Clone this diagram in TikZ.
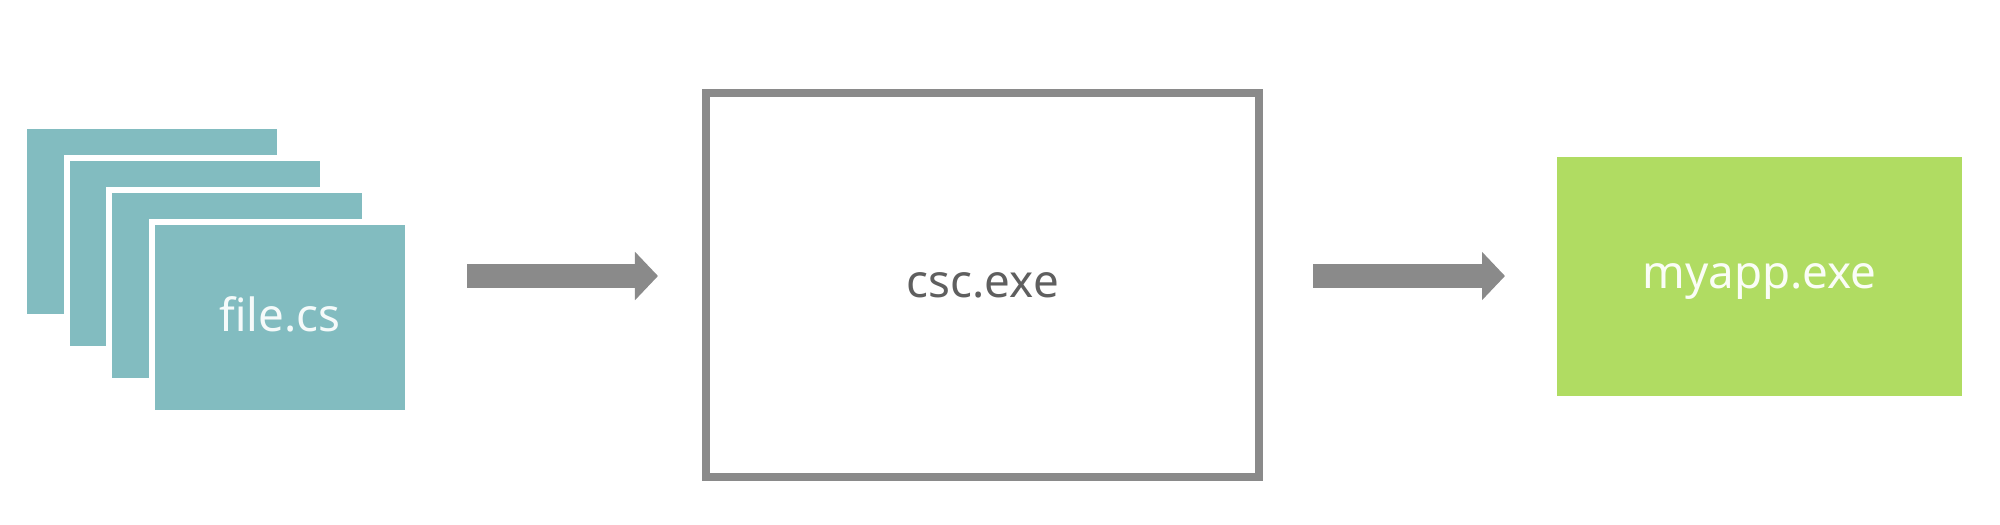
\documentclass[tikz,border=0pt]{standalone}
\usepackage{fontspec}
\setmainfont{Noto Sans}
\usetikzlibrary{arrows.meta, positioning, calc}
\definecolor{cardteal}{HTML}{82BCC0}
\definecolor{appgreen}{HTML}{B0DC62}
\definecolor{arrowgray}{HTML}{8A8A8A}
\definecolor{labelgray}{HTML}{5F5F5F}

\begin{document}
\begin{tikzpicture}[x=0.01cm, y=-0.01cm,
				FileCard/.style={
				rectangle,
				fill = cardteal,
				draw = white,
				line width = 0.06cm,
				inner sep = 0pt,
				minimum width = 2.56cm,
				minimum height = 1.91cm
				},
				ToolBox/.style={
				rectangle,
				draw = arrowgray,
				line width = 0.08cm,
				inner sep = 0pt,
				minimum width = 5.525cm,
				minimum height = 3.84cm,
				font = \fontsize{13}{15}\selectfont,
				text = labelgray
				},
				AppBox/.style={
				rectangle,
				fill = appgreen,
				inner sep = 0pt,
				minimum width = 4.05cm,
				minimum height = 2.39cm,
				text depth = 0pt,
				font = \fontsize{13}{15}\selectfont,
				text = white!94!appgreen
				},
				BigArrow/.style={
				draw = arrowgray,
				line width = 0.24cm,
				-{Triangle[length=0.23cm, width=0.47cm]}
				}]
				\useasboundingbox (0,0) rectangle (2000,524);
				\foreach \i in {1,...,4}{ % stacked source files
				\node[FileCard] (f\i) at ({152+42.67*(\i-1)}, {221.5+32*(\i-1)}) {};
				}
				\node[font=\fontsize{13}{15}\selectfont, text=white!92!cardteal, yshift=0.03cm] (fname) at (f4.center) {file.cs};
				\node[ToolBox] (csc) at (982.75,285) {csc.exe};
				\node[AppBox] (app) at (1759.5,276.5) {myapp.exe};
				\coordinate (a1s) at (467,276);
				\coordinate (a1e) at (658,276);
				\coordinate (a2s) at (1313,276);
				\coordinate (a2e) at (1505,276);
				\draw[BigArrow] (a1s) -- (a1e);
				\draw[BigArrow] (a2s) -- (a2e);
			\end{tikzpicture}
\end{document}
